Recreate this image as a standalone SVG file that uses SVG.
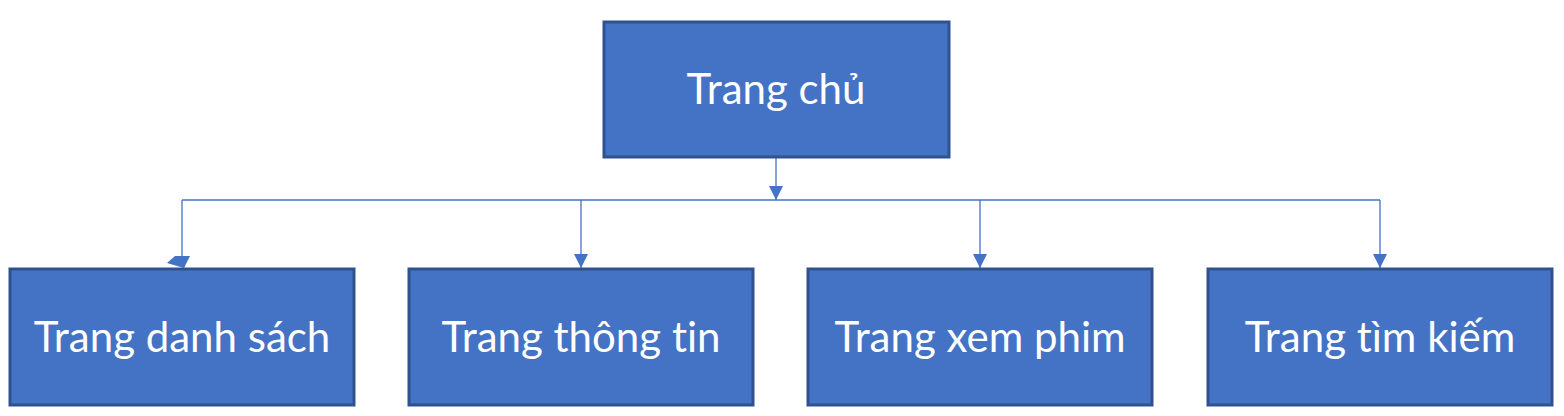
<svg xmlns="http://www.w3.org/2000/svg" width="1564" height="416" viewBox="0 0 1564 416">
<style>
.box{fill:#4472C4;stroke:#2F528F;stroke-width:3}
.lbl{fill:#fff;font-family:Lato,"Open Sans",sans-serif;font-size:42px;text-anchor:middle;font-variant-ligatures:none;font-feature-settings:"liga" 0}
.ln{fill:none;stroke:#4472C4;stroke-width:1.3}
.ah{fill:#4472C4}
</style>
<defs>
<marker id="arr" markerWidth="14" markerHeight="14" refX="14" refY="7" orient="auto" markerUnits="userSpaceOnUse" viewBox="0 0 14 14">
<path d="M0,0 L14,7 L0,14 Z" class="ah"/>
</marker>
</defs>
<rect width="1564" height="416" fill="#fff"/>
<g id="connectors">
<path class="ln" d="M776,158 V200" marker-end="url(#arr)"/>
<path class="ln" d="M182,200 H1380"/>
<path class="ln" d="M182,200 V258"/>
<polygon class="ah" points="167,263 175,256 190,256 184,268"/>
<path class="ln" d="M581,200 V268" marker-end="url(#arr)"/>
<path class="ln" d="M980,200 V268" marker-end="url(#arr)"/>
<path class="ln" d="M1380,200 V268" marker-end="url(#arr)"/>
</g>
<g id="n-trangchu">
<rect class="box" x="604" y="22" width="345" height="135"/>
<text class="lbl" x="776" y="104">Trang chủ</text>
</g>
<g id="n-danhsach">
<rect class="box" x="10" y="269" width="344" height="136"/>
<text class="lbl" x="182" y="352">Trang danh sách</text>
</g>
<g id="n-thongtin">
<rect class="box" x="409" y="269" width="344" height="136"/>
<text class="lbl" x="581" y="352">Trang thông tin</text>
</g>
<g id="n-xemphim">
<rect class="box" x="808" y="269" width="344" height="136"/>
<text class="lbl" x="980" y="352">Trang xem phim</text>
</g>
<g id="n-timkiem">
<rect class="box" x="1208" y="269" width="344" height="136"/>
<text class="lbl" x="1380" y="352">Trang tìm kiếm</text>
</g>
</svg>
